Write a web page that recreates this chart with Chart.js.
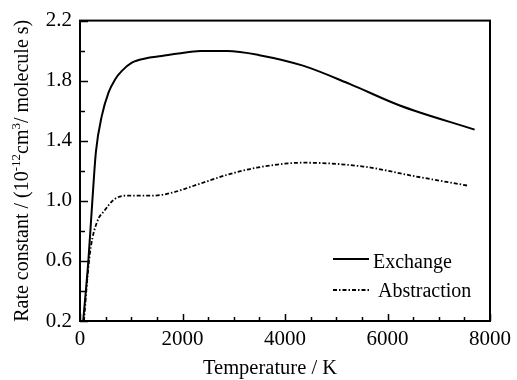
<!DOCTYPE html>
<html>
<head>
<meta charset="utf-8">
<script src="https://cdn.jsdelivr.net/npm/chart.js@4"></script>
<style>
  body { margin: 0; background: #fff; }
  canvas { display: block; }
</style>
</head>
<body>
<canvas id="myChart" width="517" height="380"></canvas>
<script>
// datos
var exchangeT = [62, 163, 241, 311, 428, 558, 688, 817, 1012, 1272, 1595, 1920, 2350, 2870, 3500, 4350, 5270, 6240, 7700];
var exchangeK = [0.2, 0.6, 1.0, 1.327, 1.569, 1.722, 1.81, 1.865, 1.92, 1.948, 1.964, 1.981, 1.997, 1.997, 1.97, 1.90, 1.777, 1.635, 1.474];

var abstractionT = [78, 145, 210, 340, 470, 660, 920, 1440, 1770, 2280, 2870, 3450, 4360, 5530, 6560, 7570];
var abstractionK = [0.2, 0.49, 0.69, 0.866, 0.931, 1.008, 1.035, 1.035, 1.052, 1.107, 1.173, 1.221, 1.254, 1.228, 1.162, 1.101];

var xTickValues = [0, 2000, 4000, 6000, 8000];
var xTickLabels = ['0', '2000', '4000', '6000', '8000'];
var yTickValues = [0.2, 0.6, 1.0, 1.4, 1.8, 2.2];
var yTickLabels = ['0.2', '0.6', '1.0', '1.4', '1.8', '2.2'];

var seriesNames = ['Exchange', 'Abstraction'];
var xTitle = 'Temperature / K';

var FONT = 'Liberation Serif';

function toPoints(xs, ys) {
    return xs.map(function(x, i) { return { x: x, y: ys[i] }; });
}

// marco, ticks hacia dentro, titulos y leyenda
var framePlugin = {
    id: 'frame',
    afterDraw: function(chart) {
        var ctx = chart.ctx;
        var a = chart.chartArea;
        var xs = chart.scales.x;
        var ys = chart.scales.y;
        ctx.save();
        ctx.strokeStyle = '#000';
        ctx.lineWidth = 2;
        ctx.strokeRect(a.left, a.top, a.right - a.left, a.bottom - a.top);

        ctx.lineWidth = 1.5;
        ctx.beginPath();
        for (var t = 0; t <= 8000; t += 500) {
            var px = Math.round(xs.getPixelForValue(t)) + 0.5;
            var len = (t % 2000 === 0) ? 7 : 4;
            ctx.moveTo(px, a.bottom);
            ctx.lineTo(px, a.bottom - len);
        }
        for (var i = 0; i <= 10; i++) {
            var v = 0.2 + i * 0.2;
            var py = Math.round(ys.getPixelForValue(v)) + 0.5;
            var l = (i % 2 === 0) ? 8 : 5;
            ctx.moveTo(a.left, py);
            ctx.lineTo(a.left + l, py);
        }
        ctx.stroke();

        var big = '20px "' + FONT + '"';
        var small = '13px "' + FONT + '"';

        // titulo eje X (un poco a la izquierda del centro, como el original)
        ctx.fillStyle = '#000';
        ctx.font = '20.5px "' + FONT + '"';
        ctx.textAlign = 'center';
        ctx.textBaseline = 'alphabetic';
        ctx.fillText(xTitle, a.left + 190, 374);

        // titulo eje Y con superindices
        var parts = [
            { t: 'Rate constant / (10', sup: false },
            { t: '-12', sup: true },
            { t: 'cm', sup: false },
            { t: '3', sup: true },
            { t: '/ molecule s)', sup: false }
        ];
        var total = 0;
        parts.forEach(function(p) {
            ctx.font = p.sup ? small : big;
            p.w = ctx.measureText(p.t).width;
            total += p.w;
        });
        ctx.save();
        ctx.translate(28, (a.top + a.bottom) / 2);
        ctx.rotate(-Math.PI / 2);
        ctx.textAlign = 'left';
        var x = -total / 2;
        parts.forEach(function(p) {
            ctx.font = p.sup ? small : big;
            ctx.fillText(p.t, x, p.sup ? -8 : 0);
            x += p.w;
        });
        ctx.restore();

        // leyenda
        var rows = [
            { y: 259, ty: 268, tx: 373 },
            { y: 290, ty: 297, tx: 378 }
        ];
        ctx.textAlign = 'left';
        chart.data.datasets.forEach(function(ds, k) {
            var r = rows[k];
            ctx.strokeStyle = '#000';
            ctx.lineWidth = ds.borderWidth;
            ctx.setLineDash(ds.borderDash || []);
            ctx.beginPath();
            ctx.moveTo(333, r.y);
            ctx.lineTo(369, r.y);
            ctx.stroke();
            ctx.setLineDash([]);
            ctx.font = big;
            ctx.fillText(ds.label, r.tx, r.ty);
        });
        ctx.restore();
    }
};

var config = {
    type: 'line',
    data: {
        datasets: [{
            label: seriesNames[0],
            data: toPoints(exchangeT, exchangeK),
            borderColor: '#000',
            borderWidth: 2,
            pointRadius: 0,
            cubicInterpolationMode: 'monotone',
            fill: false
        }, {
            label: seriesNames[1],
            data: toPoints(abstractionT, abstractionK),
            borderColor: '#000',
            borderWidth: 1.8,
            borderDash: [4, 2, 1.5, 2],
            pointRadius: 0,
            cubicInterpolationMode: 'monotone',
            fill: false
        }]
    },
    options: {
        responsive: false,
        devicePixelRatio: 1,
        animation: false,
        layout: { padding: { top: 17, right: 26, left: 0, bottom: 0 } },
        plugins: {
            legend: { display: false },
            tooltip: { enabled: false }
        },
        scales: {
            x: {
                type: 'linear',
                min: 0,
                max: 8000,
                afterBuildTicks: function(scale) {
                    scale.ticks = xTickValues.map(function(v) { return { value: v }; });
                },
                afterFit: function(scale) { scale.height = 59; },
                grid: { display: false, drawTicks: false },
                border: { display: false },
                ticks: {
                    color: '#000',
                    padding: 6,
                    maxRotation: 0,
                    font: { family: FONT, size: 21 },
                    callback: function(v, i) { return xTickLabels[i]; }
                }
            },
            y: {
                type: 'linear',
                min: 0.2,
                max: 2.2,
                afterBuildTicks: function(scale) {
                    scale.ticks = yTickValues.map(function(v) { return { value: v }; });
                },
                afterFit: function(scale) { scale.width = 80; },
                grid: { display: false, drawTicks: false },
                border: { display: false },
                ticks: {
                    color: '#000',
                    padding: 8,
                    font: { family: FONT, size: 21 },
                    callback: function(v, i) { return yTickLabels[i]; }
                }
            }
        }
    },
    plugins: [framePlugin]
};

var myChart = new Chart(document.getElementById('myChart').getContext('2d'), config);
</script>
</body>
</html>
